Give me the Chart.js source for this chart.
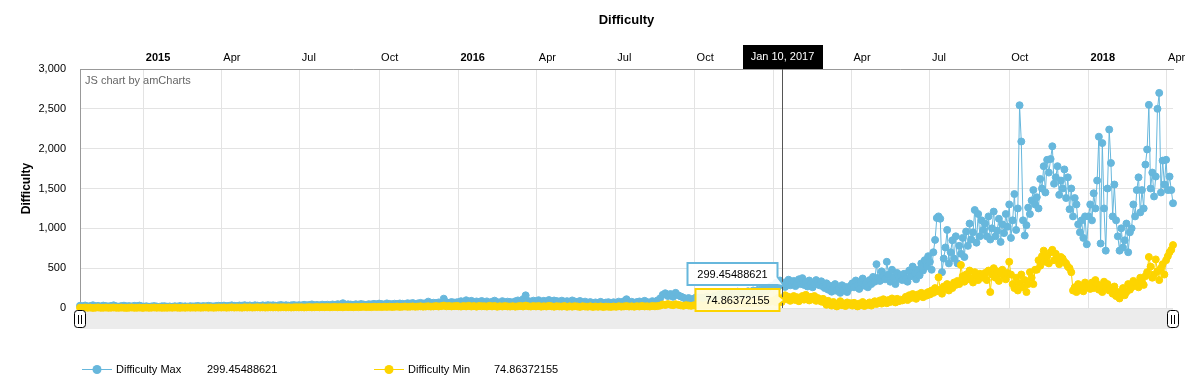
<!DOCTYPE html>
<html>
<head>
<meta charset="utf-8">
<title>Difficulty</title>
<script src="https://cdn.jsdelivr.net/npm/chart.js@4.4.1/dist/chart.umd.min.js"></script>
<style>
  html, body { margin: 0; padding: 0; background: #fff; }
  #chart { display: block; }
</style>
</head>
<body>
<canvas id="chart" width="1198" height="391"></canvas>
<script>
(function () {
    "use strict";

    // ---- data ----
    const chartTitle = "Difficulty";
    const yTitle = "Difficulty";
    const seriesNames = ["Difficulty Max", "Difficulty Min"];
    const seriesColors = ["#67b7dc", "#fdd400"];

    // each block starts on its own date, one value every N days
    const segmentStarts = ["2014-10-19", "2015-01-01", "2016-01-01", "2017-01-02", "2018-01-01"];
    const segmentSteps = [3, 3, 3, 2, 2];
    const xRange = ["2014-10-19", "2018-04-09"];

    const xTickDates = ["2015-01-01", "2015-04-01", "2015-07-01", "2015-10-01",
        "2016-01-01", "2016-04-01", "2016-07-01", "2016-10-01",
        "2017-01-01", "2017-04-01", "2017-07-01", "2017-10-01",
        "2018-01-01", "2018-04-01"];
    const xTickLabels = ["2015", "Apr", "Jul", "Oct", "2016", "Apr", "Jul", "Oct",
        "2017", "Apr", "Jul", "Oct", "2018", "Apr"];
    const yTicks = [0, 500, 1000, 1500, 2000, 2500, 3000];

    const cursorDate = "2017-01-10";

    const max2014 = [28, 22, 31, 19, 25, 34, 21, 27, 18, 30, 24, 20, 26, 33, 22, 17, 25, 29, 21, 24, 19, 27, 23, 30, 20];
    const max2015 = [18, 22, 16, 20, 24, 19, 15, 21, 23, 17,
        20, 16, 22, 18, 25, 19, 21, 17, 23, 20,
        22, 26, 19, 24, 21, 27, 23, 20, 25, 28,
        26, 30, 24, 28, 33, 27, 25, 31, 29, 35,
        28, 32, 26, 34, 30, 27, 33, 29, 36, 31,
        34, 28, 32, 38, 30, 35, 29, 33, 37, 31,
        36, 32, 40, 34, 38, 45, 35, 39, 33, 42,
        37, 41, 35, 44, 39, 48, 42, 60, 40, 46,
        43, 38, 47, 41, 50, 44, 39, 48, 45, 52,
        46, 55, 49, 43, 58, 51, 47, 54, 50, 57,
        53, 48, 60, 55, 62, 50, 58, 64, 56, 61,
        80, 59, 66, 62, 70, 65, 117, 72, 64, 75, 68, 71];
    const max2016 = [72, 85, 64, 97, 78, 90, 68, 82, 75, 88,
        70, 83, 62, 79, 92, 74, 66, 86, 71, 80,
        76, 68, 84, 95, 73, 110, 159, 88, 79, 92,
        85, 98, 77, 90, 83, 100, 74, 94, 87, 80,
        92, 78, 86, 71, 95, 82, 75, 88, 69, 80,
        66, 74, 58, 70, 62, 77, 55, 68, 73, 60,
        72, 64, 80, 67, 85, 110, 70, 78, 63, 75,
        82, 68, 90, 74, 66, 86, 72, 95, 120, 165,
        185, 150, 175, 140, 190, 160, 145, 130, 112, 125,
        98, 118, 135, 105, 128, 92, 140, 115, 132, 150,
        145, 170, 155, 182, 165, 190, 150, 175, 205, 168,
        195, 180, 210, 172, 220, 188, 230, 200, 245, 215, 260, 275];
    const max2017 = [
        290, 320, 270, 345, 299.45488621, 310, 265, 330, 355, 285, 300, 340, 275, 315, 360,
        300, 375, 290, 330, 270, 345, 310, 260, 295, 350, 320, 285, 335, 270,
        250, 310, 230, 280, 205, 260, 300, 215, 240, 190, 285, 225, 265, 200, 245, 280,
        310, 260, 345, 290, 240, 330, 370, 280, 315, 260, 350, 300, 390, 330, 550,
        380, 340, 460, 410, 360, 580, 420, 330, 480, 390, 300, 440, 370, 410, 350,
        430, 370, 330, 470, 400, 520, 440, 360, 480, 410, 560, 470, 600, 520, 650,
        580, 480, 700, 855, 1130, 1150, 1120, 450, 620, 760, 980, 560, 700, 850, 620, 900,
        560, 780, 680, 880, 640, 960, 780, 1060, 860, 950, 1230, 820, 1180, 900, 1100,
        980, 1060, 900, 1150, 860, 1000, 1210, 900, 970, 1120, 830, 1050, 940, 1180, 1020,
        1300, 880, 1100, 1430, 980, 1250, 2545, 2090, 1100, 910, 1040, 1260, 1180, 1350, 1480, 1300,
        1390, 1250, 1620, 1500, 1780, 1450, 1860, 1700, 1870, 2030, 1560, 1640, 1780, 1420, 1600,
        1500, 1740, 1380, 1640, 1240, 1500, 1150, 1380, 1300, 1050, 950, 1100, 880, 1150, 800];
    const max2018 = [
        1150, 1300, 1100, 1440, 1250, 1600, 2150, 810, 2070, 1250, 720, 1500, 2240, 1820, 1150, 1550,
        1100, 900, 720, 1000, 760, 850, 1060, 700, 950, 1000, 1300, 1150, 1480, 1640,
        1200, 1480, 1250, 1800, 1990, 2550, 1500, 1700, 1400, 1650, 2500, 2700, 1450, 1850, 1550,
        1860, 1480, 1650, 1480, 1315];

    const min2014 = [4, 2, 6, 3, 5, 1, 4, 7, 2, 3, 5, 2, 4, 6, 3, 2, 5, 3, 1, 4, 6, 2, 3, 5, 2];
    const min2015 = [3, 5, 2, 4, 6, 3, 5, 2, 4, 3,
        5, 3, 6, 4, 2, 5, 3, 6, 4, 5,
        4, 6, 3, 5, 7, 4, 6, 3, 5, 7,
        5, 7, 4, 6, 8, 5, 7, 6, 4, 8,
        6, 8, 5, 7, 9, 6, 8, 5, 7, 9,
        7, 9, 6, 8, 10, 7, 9, 6, 8, 10,
        8, 10, 7, 9, 11, 8, 10, 12, 9, 11,
        10, 12, 9, 11, 13, 10, 12, 9, 14, 11,
        12, 10, 14, 11, 13, 15, 12, 14, 11, 16,
        13, 15, 12, 16, 14, 17, 13, 15, 18, 14,
        16, 19, 15, 17, 20, 16, 18, 21, 17, 19,
        22, 18, 20, 24, 19, 23, 30, 21, 25, 20, 23, 26];
    const min2016 = [22, 18, 25, 20, 28, 19, 24, 17, 26, 21,
        23, 18, 27, 20, 25, 16, 22, 19, 24, 20,
        18, 23, 17, 21, 26, 19, 30, 22, 18, 24,
        20, 25, 17, 22, 19, 27, 21, 16, 23, 20,
        18, 24, 15, 21, 17, 23, 19, 14, 22, 18,
        16, 21, 13, 19, 15, 20, 12, 18, 16, 14,
        19, 15, 22, 17, 20, 24, 18, 21, 16, 23,
        19, 25, 20, 22, 18, 26, 21, 24, 30, 45,
        38, 50, 42, 35, 48, 40, 33, 28, 36, 31,
        27, 34, 30, 38, 32, 29, 41, 35, 44, 39,
        46, 40, 52, 45, 58, 48, 55, 62, 50, 57,
        64, 55, 60, 68, 58, 72, 63, 70, 66, 78, 71, 85];
    const min2017 = [
        100, 70, 130, 90, 74.86372155, 120, 160, 110, 140, 90, 125, 150, 100, 135, 85,
        120, 150, 105, 165, 130, 95, 140, 110, 150, 90, 125, 105, 80, 115,
        70, 40, 90, 55, 30, 75, 45, 20, 60, 85, 35, 55, 25, 70, 45, 60,
        30, 65, 40, 20, 55, 35, 75, 25, 50, 40, 70, 30, 60, 85, 50,
        65, 95, 55, 110, 80, 60, 100, 75, 120, 90, 70, 115, 85, 105, 95,
        110, 140, 100, 160, 125, 175, 140, 115, 170, 150, 190, 135, 180, 155, 200,
        170, 220, 190, 250, 210, 385, 230, 180, 270, 240, 300, 220, 280, 250, 320, 290,
        340, 300, 540, 400, 330, 420, 360, 470, 380, 320, 450, 400, 350, 430, 390,
        380, 440, 350, 470, 200, 420, 500, 380, 460, 340, 430, 480, 400, 360, 440,
        580, 420, 300, 250, 380, 220, 310, 420, 260, 350, 200, 300, 450, 380, 300, 480,
        480, 600, 530, 650, 720, 580, 650, 560, 700, 730, 600, 680, 620, 550, 640,
        620, 580, 560, 520, 500, 450, 220, 260, 200, 300, 240, 280, 210, 320, 260];
    const min2018 = [
        280, 240, 320, 250, 350, 300, 230, 280, 200, 330, 260, 300, 220, 250, 180, 270,
        150, 200, 120, 180, 250, 160, 200, 300, 230, 260, 340, 280, 310, 260,
        380, 330, 290, 400, 450, 640, 520, 380, 420, 610, 460, 350, 500, 550, 420,
        600, 650, 700, 730, 790];

    // ---- helpers ----
    const DAY = 86400000;
    const FONT = '"Liberation Sans", Arial, Helvetica, sans-serif';
    const MONTHS = ["Jan", "Feb", "Mar", "Apr", "May", "Jun", "Jul", "Aug", "Sep", "Oct", "Nov", "Dec"];

    const toPoints = (blocks) => {
        const pts = [];
        blocks.forEach((vals, k) => {
            const t0 = Date.parse(segmentStarts[k]);
            vals.forEach((v, i) => pts.push({ x: t0 + i * segmentSteps[k] * DAY, y: v }));
        });
        return pts;
    };

    const maxPoints = toPoints([max2014, max2015, max2016, max2017, max2018]);
    const minPoints = toPoints([min2014, min2015, min2016, min2017, min2018]);
    const xTickValues = xTickDates.map((d) => Date.parse(d));
    const cursorTime = Date.parse(cursorDate);

    Chart.defaults.font.family = FONT;
    Chart.defaults.font.size = 11;
    Chart.defaults.color = "#000";

    const roundRect = (ctx, x, y, w, h, r) => {
        ctx.beginPath();
        ctx.moveTo(x + r, y);
        ctx.arcTo(x + w, y, x + w, y + h, r);
        ctx.arcTo(x + w, y + h, x, y + h, r);
        ctx.arcTo(x, y + h, x, y, r);
        ctx.arcTo(x, y, x + w, y, r);
        ctx.closePath();
    };

    const drawHandle = (ctx, cx, top) => {
        roundRect(ctx, cx - 5.5, top + 0.5, 11, 17, 3);
        ctx.fillStyle = "#fff";
        ctx.fill();
        ctx.strokeStyle = "#000";
        ctx.lineWidth = 1;
        ctx.stroke();
        ctx.beginPath();
        ctx.moveTo(cx - 1.5, top + 5);
        ctx.lineTo(cx - 1.5, top + 14);
        ctx.moveTo(cx + 1.5, top + 5);
        ctx.lineTo(cx + 1.5, top + 14);
        ctx.stroke();
    };

    // balloon with a small pointer on its right side
    const drawBalloon = (ctx, text, right, cy, tipX, tipY, color, fill) => {
        ctx.font = "11px " + FONT;
        const w = Math.round(ctx.measureText(text).width) + 20;
        const h = 22;
        const left = right - w;
        const top = Math.round(cy - h / 2);
        ctx.beginPath();
        ctx.moveTo(left, top);
        ctx.lineTo(right, top);
        ctx.lineTo(right, Math.min(top + h - 8, tipY - 4));
        ctx.lineTo(tipX, tipY);
        ctx.lineTo(right, Math.min(top + h, tipY + 4));
        ctx.lineTo(right, top + h);
        ctx.lineTo(left, top + h);
        ctx.closePath();
        ctx.fillStyle = fill;
        ctx.fill();
        ctx.strokeStyle = color;
        ctx.lineWidth = 2;
        ctx.stroke();
        ctx.fillStyle = "#000";
        ctx.textAlign = "center";
        ctx.textBaseline = "middle";
        ctx.fillText(text, left + w / 2, top + h / 2 + 1);
    };

    const decor = {
        id: "decor",
        beforeDatasetsDraw(chart) {
            const { ctx, chartArea: a } = chart;
            ctx.save();
            // scrollbar background
            ctx.fillStyle = "#ececec";
            ctx.fillRect(a.left, a.bottom + 1, a.right - a.left, 20);
            // watermark
            ctx.fillStyle = "#666";
            ctx.font = "11px " + FONT;
            ctx.textAlign = "left";
            ctx.textBaseline = "middle";
            ctx.fillText("JS chart by amCharts", a.left + 5, a.top + 12);
            ctx.restore();
        },
        afterDraw(chart) {
            const { ctx, chartArea: a, scales: { x, y } } = chart;
            ctx.save();

            // title
            ctx.fillStyle = "#000";
            ctx.font = "bold 13px " + FONT;
            ctx.textAlign = "center";
            ctx.textBaseline = "middle";
            ctx.fillText(chartTitle, (a.left + a.right) / 2, 20);

            // y axis title
            ctx.save();
            ctx.translate(27, (a.top + a.bottom) / 2);
            ctx.rotate(-Math.PI / 2);
            ctx.font = "bold 12px " + FONT;
            ctx.fillText(yTitle, 0, 0);
            ctx.restore();

            // scrollbar handles
            drawHandle(ctx, a.left, a.bottom + 2);
            drawHandle(ctx, a.right, a.bottom + 2);

            // cursor
            const maxPt = maxPoints.find((p) => p.x === cursorTime);
            const minPt = minPoints.find((p) => p.x === cursorTime);
            const cx = Math.round(x.getPixelForValue(cursorTime)) + 0.5;
            ctx.strokeStyle = "#555";
            ctx.lineWidth = 1;
            ctx.beginPath();
            ctx.moveTo(cx, a.top);
            ctx.lineTo(cx, a.bottom);
            ctx.stroke();

            const d = new Date(cursorTime);
            const dateText = MONTHS[d.getUTCMonth()] + " " + d.getUTCDate() + ", " + d.getUTCFullYear();
            ctx.font = "11px " + FONT;
            const dw = Math.round(ctx.measureText(dateText).width) + 16;
            ctx.fillStyle = "#000";
            ctx.fillRect(Math.round(cx - dw / 2), a.top - 24, dw, 24);
            ctx.fillStyle = "#fff";
            ctx.textAlign = "center";
            ctx.textBaseline = "middle";
            ctx.fillText(dateText, cx, a.top - 12);

            // value balloons
            const yMax = y.getPixelForValue(maxPt.y);
            const yMin = y.getPixelForValue(minPt.y);
            const minCy = yMin - 2;
            const maxCy = Math.min(yMax - 10, minCy - 26);
            drawBalloon(ctx, String(minPt.y), cx - 3, minCy, cx + 2, minCy, seriesColors[1], "rgba(255,251,222,0.95)");
            drawBalloon(ctx, String(maxPt.y), cx - 5, maxCy, cx + 2, yMax + 2, seriesColors[0], "rgba(255,255,255,0.9)");

            // legend
            const legend = [
                { x: 82, valueX: 207, pt: maxPt },
                { x: 374, valueX: 494, pt: minPt },
            ];
            const ly = 369;
            legend.forEach((item, i) => {
                ctx.strokeStyle = seriesColors[i];
                ctx.lineWidth = 1;
                ctx.beginPath();
                ctx.moveTo(item.x, ly + 0.5);
                ctx.lineTo(item.x + 30, ly + 0.5);
                ctx.stroke();
                ctx.fillStyle = seriesColors[i];
                ctx.beginPath();
                ctx.arc(item.x + 15, ly + 0.5, 4.5, 0, Math.PI * 2);
                ctx.fill();
                ctx.fillStyle = "#000";
                ctx.font = "11px " + FONT;
                ctx.textAlign = "left";
                ctx.textBaseline = "middle";
                ctx.fillText(seriesNames[i], item.x + 34, ly + 1);
                ctx.fillText(String(item.pt.y), item.valueX, ly + 1);
            });

            ctx.restore();
        },
    };

    const lineSet = (label, data, color, order) => ({
        label: label,
        data: data,
        borderColor: color,
        backgroundColor: color,
        borderWidth: 1,
        pointRadius: 3.5,
        pointBorderWidth: 1,
        pointBackgroundColor: color,
        pointBorderColor: color,
        tension: 0,
        order: order,
        clip: 5,
    });

    new Chart(document.getElementById("chart"), {
        type: "line",
        data: {
            datasets: [
                lineSet(seriesNames[0], maxPoints, seriesColors[0], 2),
                lineSet(seriesNames[1], minPoints, seriesColors[1], 1),
            ],
        },
        options: {
            responsive: false,
            animation: false,
            devicePixelRatio: 1,
            events: [],
            layout: { padding: { top: 45, right: 25, bottom: 83, left: 0 } },
            plugins: {
                legend: { display: false },
                title: { display: false },
                tooltip: { enabled: false },
            },
            scales: {
                x: {
                    type: "linear",
                    position: "top",
                    min: Date.parse(xRange[0]),
                    max: Date.parse(xRange[1]),
                    afterBuildTicks: (scale) => {
                        scale.ticks = xTickValues.map((v) => ({ value: v }));
                    },
                    afterFit: (scale) => {
                        scale.height = 24;
                    },
                    grid: { color: "#e3e3e3", drawTicks: false },
                    border: { color: "#999" },
                    ticks: {
                        autoSkip: false,
                        maxRotation: 0,
                        align: "start",
                        labelOffset: 2,
                        padding: 4,
                        color: "#000",
                        font: (ctx) => ({
                            size: 11,
                            weight: /^\d{4}$/.test(xTickLabels[ctx.index] || "") ? "bold" : "normal",
                        }),
                        callback: (v, i) => xTickLabels[i],
                    },
                },
                y: {
                    min: yTicks[0],
                    max: yTicks[yTicks.length - 1],
                    afterBuildTicks: (scale) => {
                        scale.ticks = yTicks.map((v) => ({ value: v }));
                    },
                    afterFit: (scale) => {
                        scale.width = 80;
                    },
                    grid: { color: "#e3e3e3", drawTicks: false },
                    border: { color: "#999" },
                    ticks: {
                        padding: 14,
                        color: "#000",
                        callback: (v) => v.toLocaleString("en-US"),
                    },
                },
            },
        },
        plugins: [decor],
    });
})();
</script>
</body>
</html>
